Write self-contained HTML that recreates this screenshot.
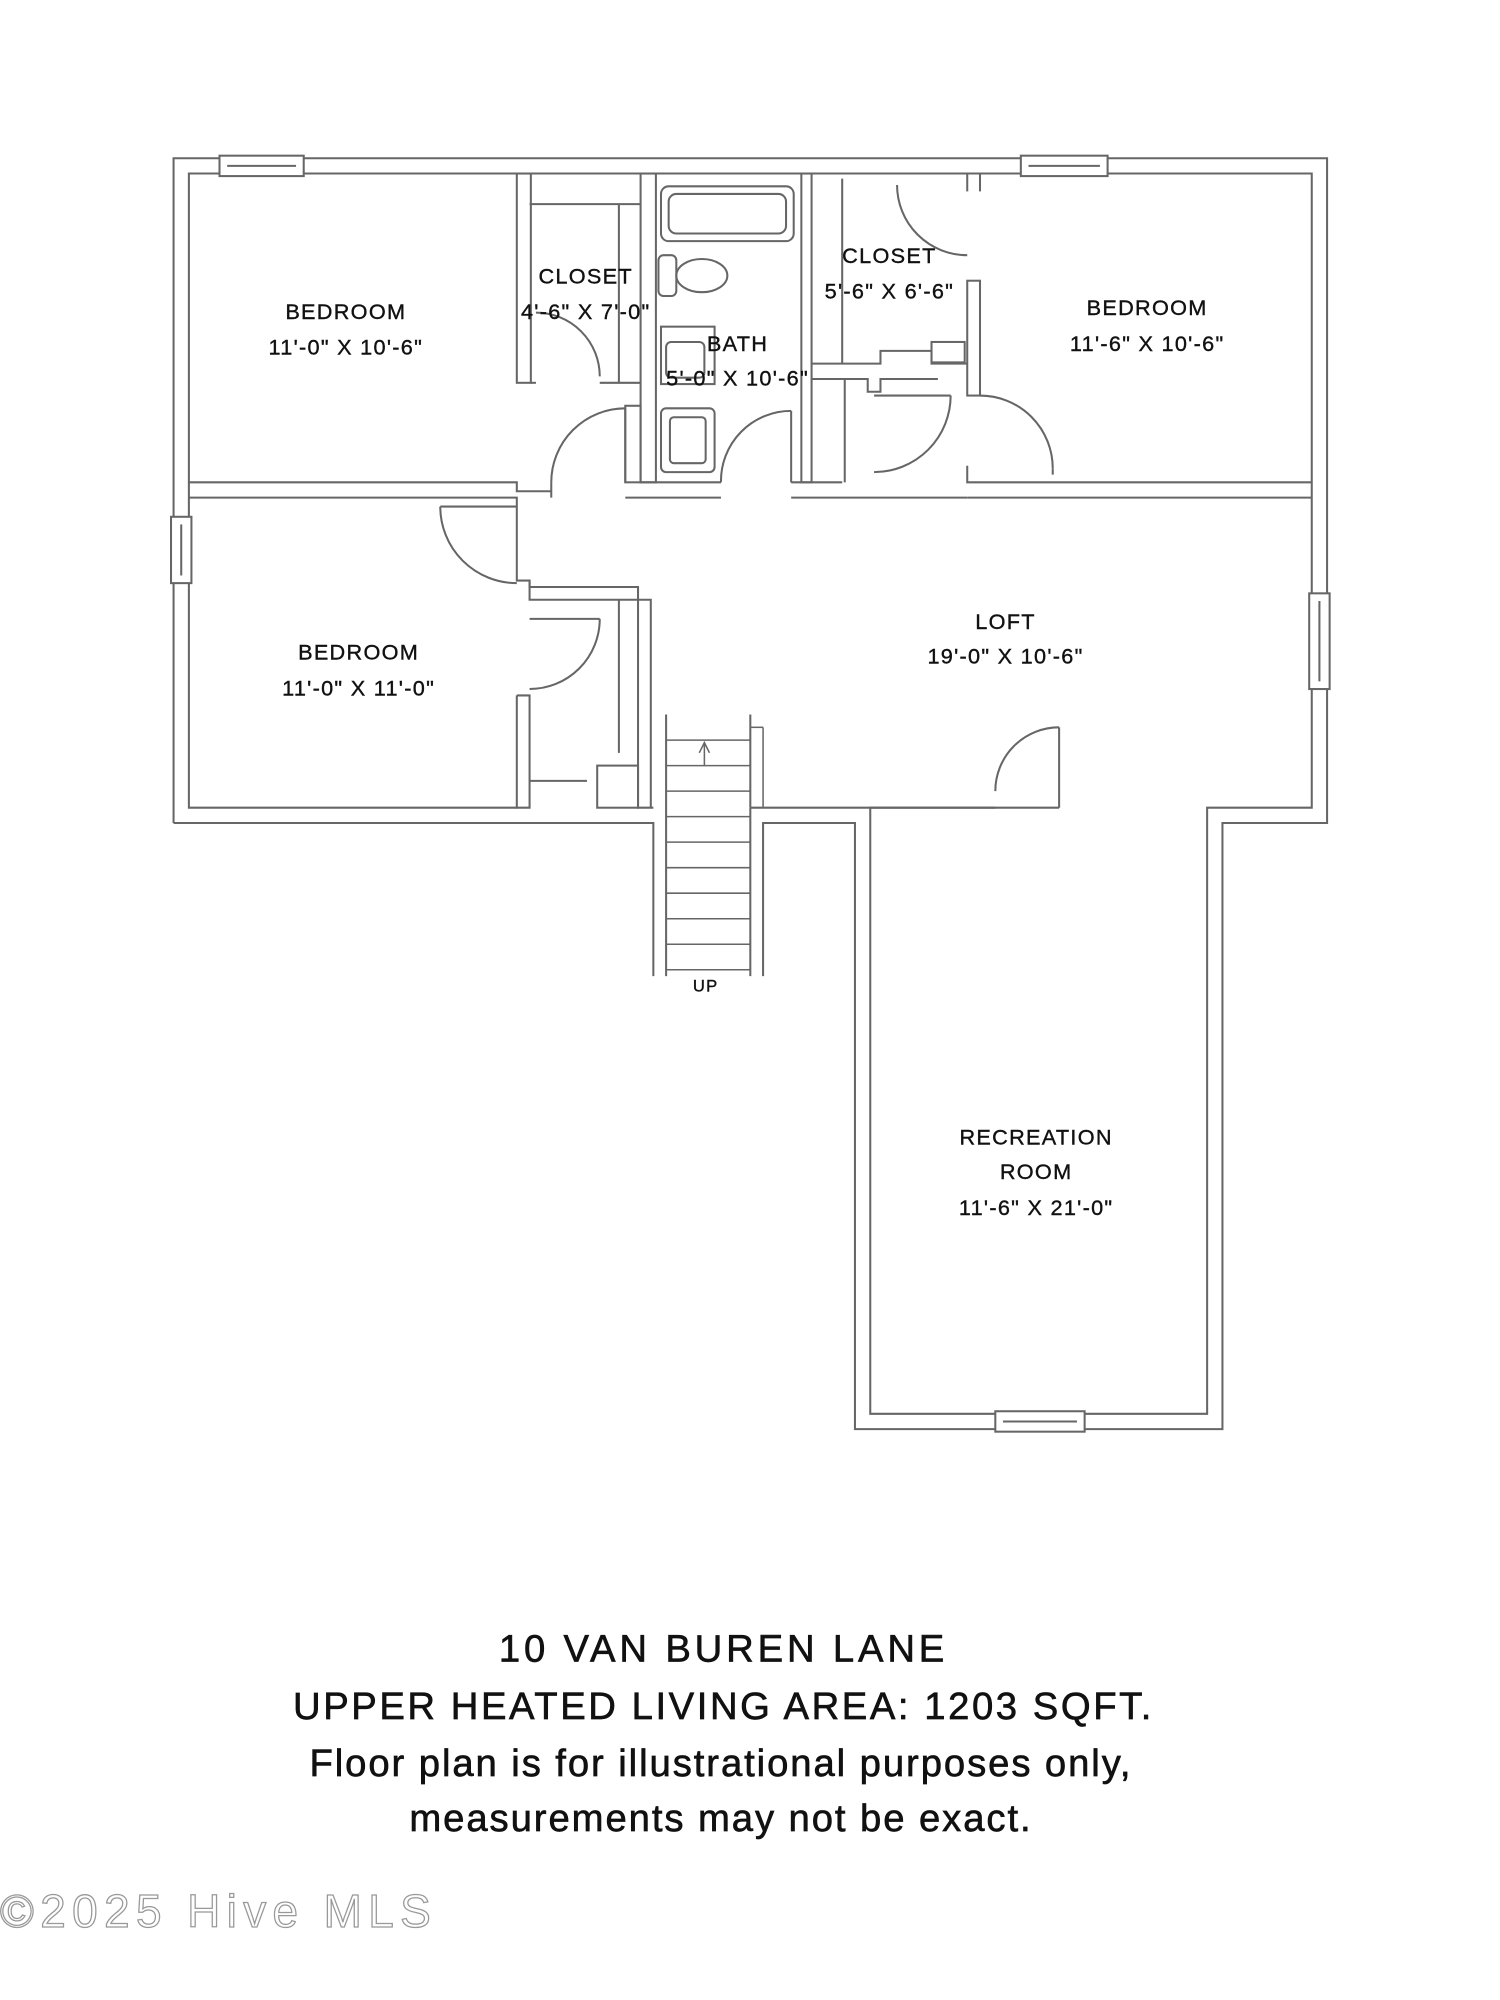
<!DOCTYPE html>
<html><head><meta charset="utf-8"><style>
html,body{margin:0;padding:0;background:#fff}
svg{display:block}
text{font-family:"Liberation Sans",sans-serif;fill:#111;text-anchor:middle}
</style></head><body>
<svg width="1500" height="2000" viewBox="0 0 1175.5 1567.4" xmlns="http://www.w3.org/2000/svg">
<g fill="none" stroke="#666" stroke-width="1.6">
<polyline points="136,645 136,124 1040,124 1040,645 958,645 958,1120 670,1120 670,645 598,645 598,765"/>
<polyline points="512,765 512,645 136,645"/>
<polyline points="405,633 148,633 148,136 1028,136 1028,633 946,633 946,1108 682,1108 682,633 830,633"/>
<line x1="588" y1="633" x2="780" y2="633"/>
<line x1="522" y1="560" x2="522" y2="765"/>
<line x1="588" y1="633" x2="588" y2="765"/>
<line x1="588" y1="560" x2="588" y2="633"/>
<polyline points="148,378 405,378 405,385 432,385"/>
<polyline points="148,390 405,390 405,395"/>
<line x1="432" y1="378" x2="432" y2="390"/>
<polyline points="758,365 758,378 1028,378"/>
<polyline points="758,390 1028,390"/>
<rect x="405" y="136" width="11" height="164"/>
<line x1="416" y1="300" x2="420" y2="300"/>
<rect x="490" y="318" width="12" height="60"/>
<line x1="470" y1="300" x2="502" y2="300"/>
<rect x="502" y="136" width="12" height="242"/>
<rect x="628" y="136" width="8" height="242"/>
<line x1="502" y1="378" x2="565" y2="378"/>
<line x1="490" y1="390" x2="565" y2="390"/>
<line x1="620" y1="378" x2="636" y2="378"/>
<line x1="620" y1="390" x2="758" y2="390"/>
<line x1="636" y1="378" x2="660" y2="378"/>
<polyline points="636,285 690,285 690,275 730,275 730,285 758,285"/>
<polyline points="636,297 680,297 680,307 690,307 690,297 735,297"/>
<rect x="758" y="220" width="10" height="90"/>
<line x1="758" y1="136" x2="758" y2="150"/>
<line x1="768" y1="136" x2="768" y2="150"/>
<rect x="730" y="268" width="26" height="16"/>
<line x1="662" y1="297" x2="662" y2="378"/>
<line x1="660" y1="140" x2="660" y2="285"/>
<line x1="415" y1="160" x2="502" y2="160"/>
<line x1="485" y1="160" x2="485" y2="300"/>
<polyline points="405,395 405,455 415,455 415,470 510,470 510,633"/>
<polyline points="415,455 415,460 500,460 500,633 512,633"/>
<polyline points="405,545 405,633 415,633 415,545 405,545"/>
<line x1="415" y1="612" x2="460" y2="612"/>
<rect x="468" y="600" width="32" height="33"/>
<line x1="485" y1="470" x2="485" y2="590"/>
<rect x="172" y="122" width="66" height="16" fill="#fff"/>
<line x1="178" y1="130" x2="232" y2="130"/>
<rect x="800" y="122" width="68" height="16" fill="#fff"/>
<line x1="806" y1="130" x2="862" y2="130"/>
<rect x="134" y="405" width="16" height="52" fill="#fff"/>
<line x1="142" y1="411" x2="142" y2="451"/>
<rect x="1026" y="465" width="16" height="75" fill="#fff"/>
<line x1="1034" y1="471" x2="1034" y2="534"/>
<rect x="780" y="1106" width="70" height="16" fill="#fff"/>
<line x1="786" y1="1114" x2="844" y2="1114"/>
<path d="M490,320 A58,58 0 0 0 432,378"/><line x1="490" y1="320" x2="490" y2="378"/>
<path d="M620,322 A55,55 0 0 0 565,378"/><line x1="620" y1="322" x2="620" y2="378"/>
<path d="M345,397 A60,60 0 0 0 405,457"/><line x1="345" y1="397" x2="405" y2="397"/>
<path d="M470,485 A55,55 0 0 1 415,540"/><line x1="415" y1="485" x2="470" y2="485"/>
<path d="M830,570 A50,50 0 0 0 780,620"/><line x1="830" y1="570" x2="830" y2="633"/>
<path d="M420,245 A50,50 0 0 1 470,295"/>
<path d="M745,310 A60,60 0 0 1 685,370"/><line x1="685" y1="310" x2="745" y2="310"/>
<path d="M768,310 A57,57 0 0 1 825,367"/><line x1="825" y1="367" x2="825" y2="372"/>
<path d="M703,145 A55,55 0 0 0 758,200"/>
<rect x="518" y="146" width="104" height="43" rx="6"/>
<rect x="524" y="152" width="92" height="31" rx="6"/>
<rect x="516" y="200" width="14" height="32" rx="4"/>
<ellipse cx="550" cy="216" rx="20" ry="13"/>
<rect x="518" y="256" width="42" height="45"/>
<rect x="522" y="268" width="30" height="28" rx="4"/>
<rect x="518" y="320" width="42" height="50" rx="4"/>
<rect x="525" y="327" width="28" height="36" rx="3"/>
<g stroke-width="1.2">
<line x1="522" y1="580" x2="588" y2="580"/><line x1="522" y1="600" x2="588" y2="600"/>
<line x1="522" y1="620" x2="588" y2="620"/><line x1="522" y1="640" x2="588" y2="640"/>
<line x1="522" y1="660" x2="588" y2="660"/><line x1="522" y1="680" x2="588" y2="680"/>
<line x1="522" y1="700" x2="588" y2="700"/><line x1="522" y1="720" x2="588" y2="720"/>
<line x1="522" y1="740" x2="588" y2="740"/><line x1="522" y1="760" x2="588" y2="760"/>
<line x1="552" y1="600" x2="552" y2="582"/><polyline points="548,590 552,582 556,590"/>
<line x1="588" y1="570" x2="598" y2="570"/><line x1="598" y1="570" x2="598" y2="633"/>
</g>
</g>
<g font-size="17" letter-spacing="1" style="stroke:#111;stroke-width:0.3">
<text x="271" y="250">BEDROOM</text><text x="271" y="278">11'-0" X 10'-6"</text>
<text x="459" y="222">CLOSET</text><text x="459" y="250">4'-6" X 7'-0"</text>
<text x="578" y="275">BATH</text><text x="578" y="302">5'-0" X 10'-6"</text>
<text x="697" y="206">CLOSET</text><text x="697" y="234">5'-6" X 6'-6"</text>
<text x="899" y="247">BEDROOM</text><text x="899" y="275">11'-6" X 10'-6"</text>
<text x="281" y="517">BEDROOM</text><text x="281" y="545">11'-0" X 11'-0"</text>
<text x="788" y="493">LOFT</text><text x="788" y="520">19'-0" X 10'-6"</text>
<text x="812" y="897">RECREATION</text><text x="812" y="924">ROOM</text><text x="812" y="952">11'-6" X 21'-0"</text>
<text x="553" y="777" font-size="13">UP</text>
</g>
<g font-size="30" letter-spacing="1.5" style="stroke:#111;stroke-width:0.5">
<text x="567" y="1302" letter-spacing="3">10 VAN BUREN LANE</text>
<text x="567" y="1347" letter-spacing="2">UPPER HEATED LIVING AREA: 1203 SQFT.</text>
<text x="565" y="1392">Floor plan is for illustrational purposes only,</text>
<text x="565" y="1435">measurements may not be exact.</text>
</g>
<text x="0" y="1510" font-size="36" letter-spacing="5" style="text-anchor:start;fill:#fff;stroke:#999;stroke-width:1">©2025 Hive MLS</text>
</svg>
</body></html>
